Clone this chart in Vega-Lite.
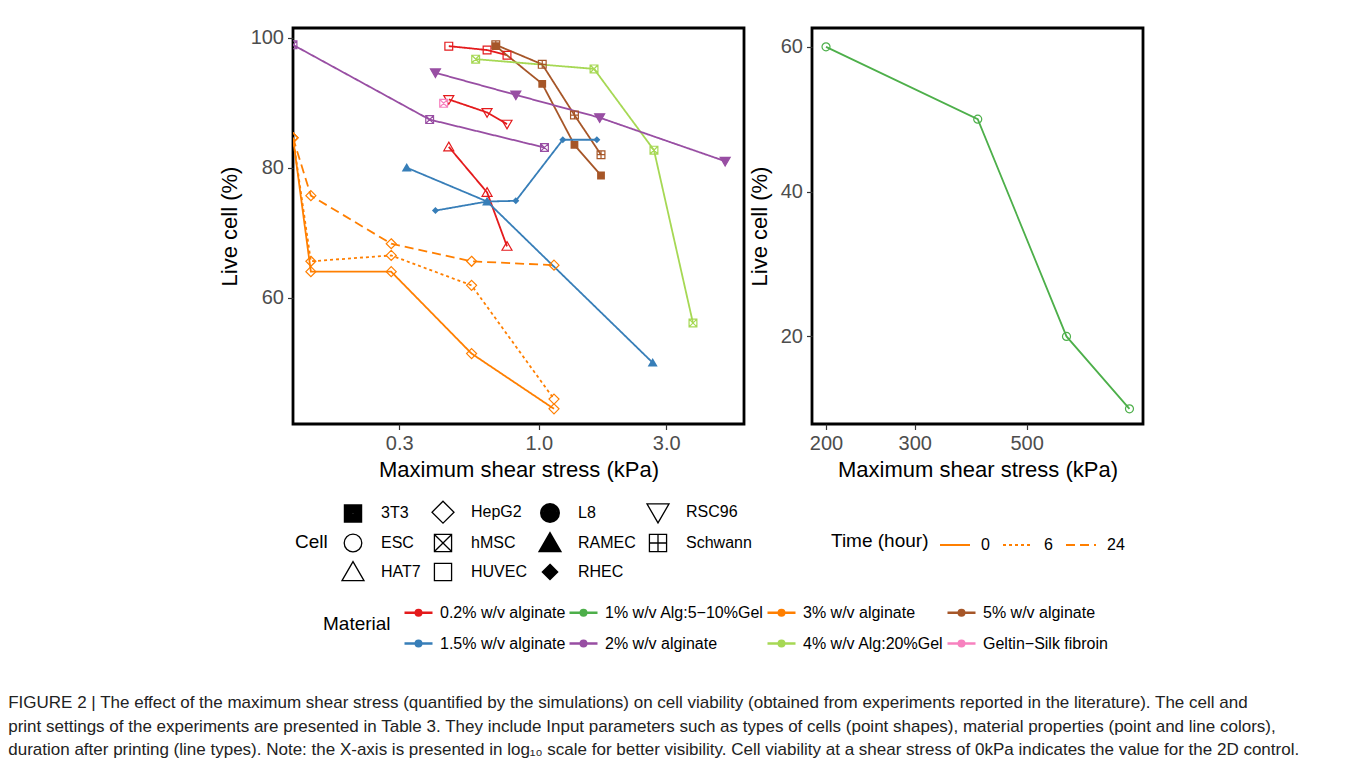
{
  "$schema": "https://vega.github.io/schema/vega-lite/v6.json",
  "padding": {"left": 8, "top": 26, "right": 5, "bottom": 5},
  "autosize": {"type": "pad"},
  "config": {
    "font": "Liberation Sans",
    "view": {"stroke": "black", "strokeWidth": 2.8},
    "axis": {"grid": false, "domain": false, "tickColor": "#333333", "tickWidth": 1.2, "tickSize": 5.5, "labelFontSize": 20, "labelColor": "#4D4D4D", "titleFontSize": 22, "titleFontWeight": "normal", "titleColor": "black", "labelPadding": 4, "titlePadding": 6},
    "axisY": {"titlePadding": 9},
    "legend": {"labelFontSize": 16, "titleFontSize": 19, "titleFontWeight": "normal", "labelColor": "black", "titleColor": "black", "padding": 0}
  },
  "title": {
    "text": [
      "FIGURE 2 | The effect of the maximum shear stress (quantified by the simulations) on cell viability (obtained from experiments reported in the literature). The cell and",
      "print settings of the experiments are presented in Table 3. They include Input parameters such as types of cells (point shapes), material properties (point and line colors),",
      "duration after printing (line types). Note: the X-axis is presented in log₁₀ scale for better visibility. Cell viability at a shear stress of 0kPa indicates the value for the 2D control."
    ],
    "orient": "bottom", "anchor": "start", "frame": "bounds", "dx": -208.5, "offset": 43,
    "fontSize": 17, "fontWeight": "normal", "lineHeight": 23.5, "color": "#222222", "baseline": "top"
  },
  "datasets": {
    "left": [
      {"material": "0.2% w/v alginate", "cell": "HUVEC", "time": "0", "stress": 0.46, "live": 98.7},
      {"material": "0.2% w/v alginate", "cell": "HUVEC", "time": "0", "stress": 0.64, "live": 98.1},
      {"material": "0.2% w/v alginate", "cell": "HUVEC", "time": "0", "stress": 0.76, "live": 97.3},
      {"material": "0.2% w/v alginate", "cell": "HAT7", "time": "0", "stress": 0.46, "live": 83.2},
      {"material": "0.2% w/v alginate", "cell": "HAT7", "time": "0", "stress": 0.64, "live": 76.2},
      {"material": "0.2% w/v alginate", "cell": "HAT7", "time": "0", "stress": 0.76, "live": 67.9},
      {"material": "0.2% w/v alginate", "cell": "RSC96", "time": "0", "stress": 0.46, "live": 90.5},
      {"material": "0.2% w/v alginate", "cell": "RSC96", "time": "0", "stress": 0.64, "live": 88.5},
      {"material": "0.2% w/v alginate", "cell": "RSC96", "time": "0", "stress": 0.76, "live": 86.7},
      {"material": "Geltin−Silk fibroin", "cell": "hMSC", "time": "0", "stress": 0.44, "live": 89.9},
      {"material": "5% w/v alginate", "cell": "3T3", "time": "0", "stress": 0.69, "live": 98.7},
      {"material": "5% w/v alginate", "cell": "3T3", "time": "0", "stress": 1.03, "live": 92.9},
      {"material": "5% w/v alginate", "cell": "3T3", "time": "0", "stress": 1.36, "live": 83.5},
      {"material": "5% w/v alginate", "cell": "3T3", "time": "0", "stress": 1.71, "live": 78.8},
      {"material": "5% w/v alginate", "cell": "Schwann", "time": "0", "stress": 0.69, "live": 98.9},
      {"material": "5% w/v alginate", "cell": "Schwann", "time": "0", "stress": 1.03, "live": 95.9},
      {"material": "5% w/v alginate", "cell": "Schwann", "time": "0", "stress": 1.36, "live": 88.1},
      {"material": "5% w/v alginate", "cell": "Schwann", "time": "0", "stress": 1.71, "live": 82.0},
      {"material": "4% w/v Alg:20%Gel", "cell": "hMSC", "time": "0", "stress": 0.58, "live": 96.7},
      {"material": "4% w/v Alg:20%Gel", "cell": "hMSC", "time": "0", "stress": 1.61, "live": 95.2},
      {"material": "4% w/v Alg:20%Gel", "cell": "hMSC", "time": "0", "stress": 2.70, "live": 82.7},
      {"material": "4% w/v Alg:20%Gel", "cell": "hMSC", "time": "0", "stress": 3.78, "live": 56.1},
      {"material": "2% w/v alginate", "cell": "RSC96", "time": "0", "stress": 0.41, "live": 94.6},
      {"material": "2% w/v alginate", "cell": "RSC96", "time": "0", "stress": 0.82, "live": 91.2},
      {"material": "2% w/v alginate", "cell": "RSC96", "time": "0", "stress": 1.69, "live": 87.7},
      {"material": "2% w/v alginate", "cell": "RSC96", "time": "0", "stress": 4.99, "live": 81.0},
      {"material": "2% w/v alginate", "cell": "hMSC", "time": "0", "stress": 0, "live": 98.9},
      {"material": "2% w/v alginate", "cell": "hMSC", "time": "0", "stress": 0.39, "live": 87.4},
      {"material": "2% w/v alginate", "cell": "hMSC", "time": "0", "stress": 1.05, "live": 83.1},
      {"material": "1.5% w/v alginate", "cell": "RAMEC", "time": "0", "stress": 0.32, "live": 80.0},
      {"material": "1.5% w/v alginate", "cell": "RAMEC", "time": "0", "stress": 0.64, "live": 74.8},
      {"material": "1.5% w/v alginate", "cell": "RAMEC", "time": "0", "stress": 2.67, "live": 50.0},
      {"material": "1.5% w/v alginate", "cell": "RHEC", "time": "0", "stress": 0.41, "live": 73.4},
      {"material": "1.5% w/v alginate", "cell": "RHEC", "time": "0", "stress": 0.64, "live": 74.8},
      {"material": "1.5% w/v alginate", "cell": "RHEC", "time": "0", "stress": 0.82, "live": 74.9},
      {"material": "1.5% w/v alginate", "cell": "RHEC", "time": "0", "stress": 1.23, "live": 84.3},
      {"material": "1.5% w/v alginate", "cell": "RHEC", "time": "0", "stress": 1.65, "live": 84.3},
      {"material": "3% w/v alginate", "cell": "HepG2", "time": "0", "stress": 0, "live": 84.6},
      {"material": "3% w/v alginate", "cell": "HepG2", "time": "0", "stress": 0.14, "live": 64.0},
      {"material": "3% w/v alginate", "cell": "HepG2", "time": "0", "stress": 0.28, "live": 64.0},
      {"material": "3% w/v alginate", "cell": "HepG2", "time": "0", "stress": 0.56, "live": 51.4},
      {"material": "3% w/v alginate", "cell": "HepG2", "time": "0", "stress": 1.14, "live": 42.9},
      {"material": "3% w/v alginate", "cell": "HepG2", "time": "6", "stress": 0, "live": 84.6},
      {"material": "3% w/v alginate", "cell": "HepG2", "time": "6", "stress": 0.14, "live": 65.6},
      {"material": "3% w/v alginate", "cell": "HepG2", "time": "6", "stress": 0.28, "live": 66.5},
      {"material": "3% w/v alginate", "cell": "HepG2", "time": "6", "stress": 0.56, "live": 61.9},
      {"material": "3% w/v alginate", "cell": "HepG2", "time": "6", "stress": 1.14, "live": 44.4},
      {"material": "3% w/v alginate", "cell": "HepG2", "time": "24", "stress": 0, "live": 84.6},
      {"material": "3% w/v alginate", "cell": "HepG2", "time": "24", "stress": 0.14, "live": 75.7},
      {"material": "3% w/v alginate", "cell": "HepG2", "time": "24", "stress": 0.28, "live": 68.3},
      {"material": "3% w/v alginate", "cell": "HepG2", "time": "24", "stress": 0.56, "live": 65.6},
      {"material": "3% w/v alginate", "cell": "HepG2", "time": "24", "stress": 1.14, "live": 65.0}
    ],
    "right": [
      {"material": "1% w/v Alg:5−10%Gel", "cell": "ESC", "time": "0", "stress": 200, "live": 60},
      {"material": "1% w/v Alg:5−10%Gel", "cell": "ESC", "time": "0", "stress": 400, "live": 50},
      {"material": "1% w/v Alg:5−10%Gel", "cell": "ESC", "time": "0", "stress": 600, "live": 20},
      {"material": "1% w/v Alg:5−10%Gel", "cell": "ESC", "time": "0", "stress": 800, "live": 10}
    ]
  },
  "bounds": "flush",
  "spacing": 68,
  "hconcat": [
    {
      "width": 451,
      "height": 396,
      "data": {"name": "left"},
      "encoding": {
        "x": {"field": "stress", "type": "quantitative", "scale": {"type": "log", "domain": [0.12, 5.87], "clamp": true, "nice": false}, "axis": {"title": "Maximum shear stress (kPa)", "values": [0.3, 1, 3], "format": ".1f"}},
        "y": {"field": "live", "type": "quantitative", "scale": {"domain": [40.57, 101.49], "nice": false, "zero": false}, "axis": {"title": "Live cell (%)", "values": [60, 80, 100]}}
      },
      "layer": [
        {
          "mark": {"type": "line", "strokeWidth": 1.8, "clip": true},
          "encoding": {
            "color": {
              "field": "material", "type": "nominal",
              "scale": {
                "domain": ["0.2% w/v alginate", "1.5% w/v alginate", "1% w/v Alg:5−10%Gel", "2% w/v alginate", "3% w/v alginate", "4% w/v Alg:20%Gel", "5% w/v alginate", "Geltin−Silk fibroin"],
                "range": ["#E41A1C", "#377EB8", "#4DAF4A", "#984EA3", "#FF7F00", "#A6D854", "#A65628", "#F781BF"]
              },
              "legend": {
                "title": "Material", "orient": "none", "legendX": 30, "legendY": 569, "columns": 4,
                "titleOrient": "left", "titleAnchor": "middle", "titleBaseline": "middle", "titlePadding": 12,
                "symbolType": "M-1,0H1M-0.2,0A0.2,0.2,0,1,1,0.2,0A0.2,0.2,0,1,1,-0.2,0Z",
                "symbolSize": 784, "symbolStrokeWidth": 2.4, "labelOffset": 6, "columnPadding": -2, "rowPadding": 7
              }
            },
            "strokeDash": {
              "field": "time", "type": "nominal",
              "scale": {"domain": ["0", "6", "24"], "range": [[1, 0], [3, 3], [9, 5]]},
              "legend": {
                "title": "Time (hour)", "orient": "none", "legendX": 538, "legendY": 501, "direction": "horizontal", "columns": 3,
                "titleOrient": "left", "titleAnchor": "middle", "titleBaseline": "middle", "titlePadding": 10,
                "symbolType": "stroke", "symbolSize": 900, "symbolStrokeColor": "#FF7F00", "symbolStrokeWidth": 1.8,
                "labelOffset": 10, "columnPadding": 9
              }
            },
            "detail": {"field": "cell"}
          }
        },
        {
          "transform": [{"filter": "indexof(['3T3','L8','RAMEC','RHEC'], datum.cell) < 0"}],
          "mark": {"type": "point", "filled": false, "opacity": 1, "strokeWidth": 1.2, "size": 100, "clip": true},
          "encoding": {
            "color": {"field": "material", "type": "nominal"},
            "shape": {
              "field": "cell", "type": "nominal",
              "scale": {
                "domain": ["3T3", "ESC", "HAT7", "HepG2", "hMSC", "HUVEC", "L8", "RAMEC", "RHEC", "RSC96", "Schwann"],
                "range": [
                  "M-0.78,-0.78H0.78V0.78H-0.78ZM-0.68,-0.68H0.68V0.68H-0.68ZM-0.58,-0.58H0.58V0.58H-0.58ZM-0.48,-0.48H0.48V0.48H-0.48ZM-0.38,-0.38H0.38V0.38H-0.38ZM-0.28,-0.28H0.28V0.28H-0.28ZM-0.18,-0.18H0.18V0.18H-0.18ZM-0.08,-0.08H0.08V0.08H-0.08Z",
                  "M-0.8,0A0.8,0.8,0,1,1,0.8,0A0.8,0.8,0,1,1,-0.8,0Z",
                  "M0,-0.95L1,0.78H-1Z",
                  "M0,-1L1,0L0,1L-1,0Z",
                  "M-0.78,-0.78H0.78V0.78H-0.78ZM-0.78,-0.78L0.78,0.78M0.78,-0.78L-0.78,0.78",
                  "M-0.78,-0.78H0.78V0.78H-0.78Z",
                  "M-0.85,0A0.85,0.85,0,1,1,0.85,0A0.85,0.85,0,1,1,-0.85,0ZM-0.75,0A0.75,0.75,0,1,1,0.75,0A0.75,0.75,0,1,1,-0.75,0ZM-0.65,0A0.65,0.65,0,1,1,0.65,0A0.65,0.65,0,1,1,-0.65,0ZM-0.55,0A0.55,0.55,0,1,1,0.55,0A0.55,0.55,0,1,1,-0.55,0ZM-0.45,0A0.45,0.45,0,1,1,0.45,0A0.45,0.45,0,1,1,-0.45,0ZM-0.35,0A0.35,0.35,0,1,1,0.35,0A0.35,0.35,0,1,1,-0.35,0ZM-0.25,0A0.25,0.25,0,1,1,0.25,0A0.25,0.25,0,1,1,-0.25,0ZM-0.15,0A0.15,0.15,0,1,1,0.15,0A0.15,0.15,0,1,1,-0.15,0ZM-0.05,0A0.05,0.05,0,1,1,0.05,0A0.05,0.05,0,1,1,-0.05,0Z",
                  "M0,-0.95L1,0.78H-1ZM0,-0.8L0.87,0.705H-0.87ZM0,-0.65L0.74,0.63H-0.74ZM0,-0.5L0.61,0.555H-0.61ZM0,-0.35L0.48,0.48H-0.48ZM0,-0.2L0.35,0.405H-0.35ZM0,-0.05L0.22,0.33H-0.22ZM0,0.1L0.09,0.255H-0.09Z",
                  "M0,-0.7L0.7,0L0,0.7L-0.7,0ZM0,-0.6L0.6,0L0,0.6L-0.6,0ZM0,-0.5L0.5,0L0,0.5L-0.5,0ZM0,-0.4L0.4,0L0,0.4L-0.4,0ZM0,-0.3L0.3,0L0,0.3L-0.3,0ZM0,-0.2L0.2,0L0,0.2L-0.2,0ZM0,-0.1L0.1,0L0,0.1L-0.1,0Z",
                  "M0,0.95L1,-0.78H-1Z",
                  "M-0.78,-0.78H0.78V0.78H-0.78ZM0,-0.78V0.78M-0.78,0H0.78"
                ]
              },
              "legend": {
                "title": "Cell", "orient": "none", "legendX": 2, "legendY": 472, "columns": 4,
                "titleOrient": "left", "titleAnchor": "middle", "titleBaseline": "middle", "titlePadding": 13,
                "symbolSize": 484, "symbolStrokeWidth": 1.3, "symbolStrokeColor": "black",
                "labelOffset": 16, "columnPadding": 8, "rowPadding": 3
              }
            }
          }
        },
        {
          "transform": [{"filter": "indexof(['3T3','L8','RAMEC','RHEC'], datum.cell) >= 0 || (datum.cell == 'RSC96' && datum.material == '2% w/v alginate')"}],
          "mark": {"type": "point", "filled": true, "opacity": 1, "size": 100, "clip": true},
          "encoding": {
            "color": {"field": "material", "type": "nominal"},
            "shape": {"field": "cell", "type": "nominal"}
          }
        }
      ]
    },
    {
      "width": 331,
      "height": 396,
      "data": {"name": "right"},
      "encoding": {
        "x": {"field": "stress", "type": "quantitative", "scale": {"type": "log", "domain": [187.6, 851], "nice": false}, "axis": {"title": "Maximum shear stress (kPa)", "values": [200, 300, 500], "format": "d"}},
        "y": {"field": "live", "type": "quantitative", "scale": {"domain": [7.9, 62.6], "nice": false, "zero": false}, "axis": {"title": "Live cell (%)", "values": [20, 40, 60]}}
      },
      "layer": [
        {
          "mark": {"type": "line", "strokeWidth": 1.8},
          "encoding": {"color": {"field": "material", "type": "nominal"}}
        },
        {
          "mark": {"type": "point", "filled": false, "opacity": 1, "strokeWidth": 1.2, "size": 100},
          "encoding": {
            "color": {"field": "material", "type": "nominal"},
            "shape": {"field": "cell", "type": "nominal"}
          }
        }
      ]
    }
  ],
  "resolve": {"scale": {"color": "shared", "shape": "shared", "strokeDash": "shared"}}
}
